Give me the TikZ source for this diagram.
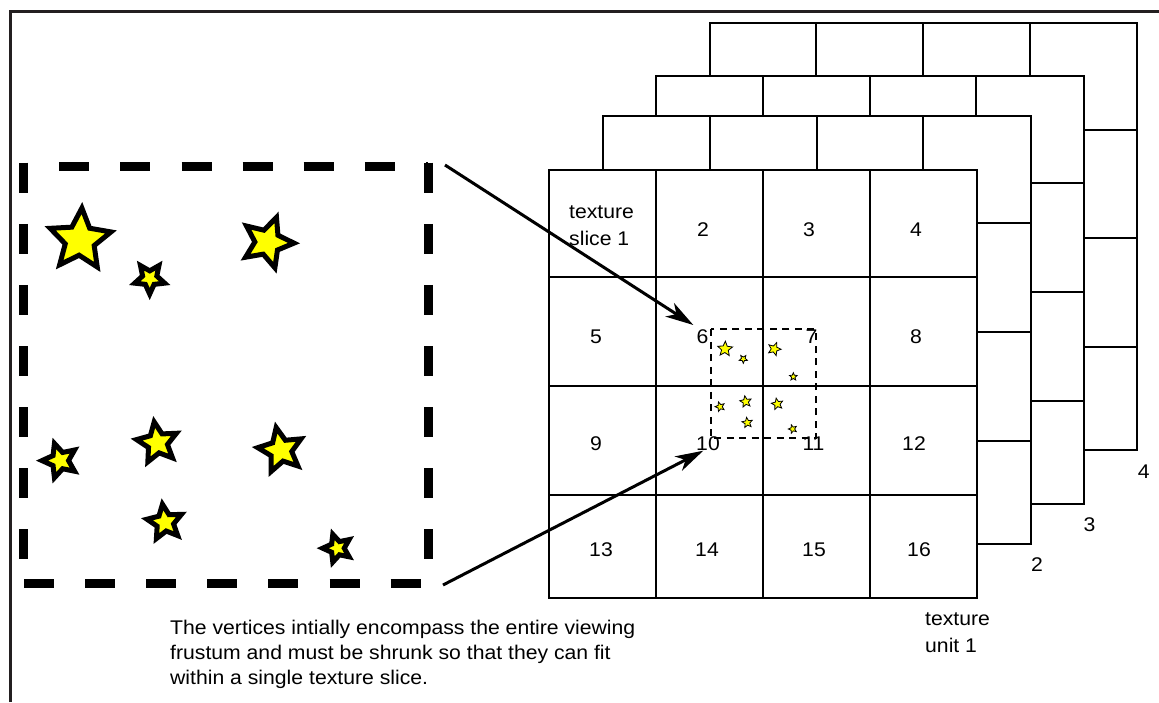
\documentclass[tikz,border=0pt]{standalone}
\usepackage{fontspec}
\setmainfont{Liberation Sans}[FakeStretch=1.07]
\usetikzlibrary{shapes.geometric,arrows.meta}
\definecolor{framecol}{HTML}{231F20}
\definecolor{staryellow}{HTML}{FFFF00}
\tikzset{
  bigstar/.style={star, star points=5, star point ratio=2.1, inner sep=0pt,
    draw=black, fill=staryellow, line width=5pt},
  tinystar/.style={star, star points=5, star point ratio=2.2, inner sep=0pt,
    draw=black, fill=staryellow, line width=0.8pt},
  gridline/.style={line width=2pt, draw=black},
  lbl/.style={inner sep=0pt, font=\fontsize{19.8}{25}\selectfont},
  lblw/.style={inner sep=0pt, font=\fontsize{19.8}{26.7}\selectfont},
  bigdash/.style={line width=9pt, dash pattern=on 30pt off 31.1pt},
  smalldash/.style={line width=1.8pt, dash pattern=on 7pt off 5.5pt},
  thickarrow/.style={line width=3pt, -{Stealth[length=28pt,width=16pt,inset=8pt]}},
}
\newcommand\texgrid[2]{%
  \filldraw[gridline, fill=white] (#1,#2) rectangle ++(427.7,427.5);
  \foreach \dx in {106.7,213.7,320.2} \draw[gridline] (#1+\dx,#2) -- ++(0,427.5);
  \foreach \dy in {107,215.5,324.5} \draw[gridline] (#1,#2+\dy) -- ++(427.7,0);
}
\begin{document}
\begin{tikzpicture}[x=1pt,y=-1pt]
\useasboundingbox (0,0) rectangle (1159,702);
% frame
\coordinate (fbl) at (10.5,702);
\coordinate (ftl) at (10.5,11.7);
\coordinate (ftr) at (1159,11.7);
\draw[line width=3.3pt, framecol] (fbl) -- (ftl) -- (ftr);
% texture slices (back to front)
\texgrid{709.5}{22.7}
\texgrid{656}{76}
\texgrid{603}{116}
\texgrid{549.3}{170}
% slice numbers on front grid
\node[lblw, anchor=base west] (slice1) at (569,218.3)
  {\begin{tabular}[t]{@{}l@{}}texture\\slice 1\end{tabular}};
\foreach \x/\y/\t in {703/236.7/2, 809/236.7/3, 916/236.7/4,
  596/343.7/5, 702.5/343.7/6, 811.5/343.7/7, 916/343.7/8,
  596/450.7/9, 708/450.7/10, 813.5/450.7/11, 914/450.7/12,
  601/556.7/13, 707/556.7/14, 814/556.7/15, 919/556.7/16}
  \node[lbl, anchor=base] (n\t) at (\x,\y) {\t};
% unit labels
\node[lblw, anchor=base west] (unit1) at (925,625.5)
  {\begin{tabular}[t]{@{}l@{}}texture\\unit 1\end{tabular}};
\node[lbl, anchor=base] (unit2) at (1037,571.7) {2};
\node[lbl, anchor=base] (unit3) at (1089.5,531) {3};
\node[lbl, anchor=base] (unit4) at (1143.8,478.3) {4};
% small dashed box with tiny stars
\coordinate (sbtl) at (710.7,329.3);
\coordinate (sbbr) at (816,438.3);
\draw[smalldash] (sbtl) rectangle (sbbr);
\foreach \x/\y/\r/\a [count=\i] in {725/349/7.8/-3, 743.3/359/4.3/36, 774.3/349/6.8/-20,
  793.3/376.7/4/0, 720/406.7/5/18, 745.7/401.7/6/9, 777.3/404/6/11,
  747.3/422.7/5.4/8, 792.7/429/4.4/18}
  \node[tinystar, minimum size=2*\r pt, rotate=\a] (ts\i) at (\x,\y) {};
% big dashed box
\draw[bigdash] (23.3,162.7) -- (23.3,583);
\draw[bigdash] (24,583.3) -- (428,583.3);
\draw[bigdash] (428.3,162.7) -- (428.3,583);
\draw[bigdash] (59.3,166.7) -- (428,166.7);
% big stars
\foreach \x/\y/\r/\a [count=\i] in {80/240/32/-3.4, 149.7/278.3/15.7/36,
  267.5/242.3/26.5/-19.8, 60/460.6/18/18, 157.5/442.9/21.2/9,
  280.8/450.3/23.2/11.5, 165/522.4/18.3/8, 337.3/548.2/14.6/18}
  \node[bigstar, minimum size=2*\r pt, rotate=\a] (bs\i) at (\x,\y) {};
% arrows
\coordinate (a1s) at (445,165);
\coordinate (a1e) at (693.3,325);
\coordinate (a2s) at (443,585);
\coordinate (a2e) at (703.3,450.7);
\draw[thickarrow] (a1s) -- (a1e);
\draw[thickarrow] (a2s) -- (a2e);
% caption
\node[lbl, anchor=base west] (caption) at (170,634.7)
  {\begin{tabular}[t]{@{}l@{}}The vertices intially encompass the entire viewing\\
   frustum and must be shrunk so that they can fit\\
   within a single texture slice.\end{tabular}};
\end{tikzpicture}
\end{document}
